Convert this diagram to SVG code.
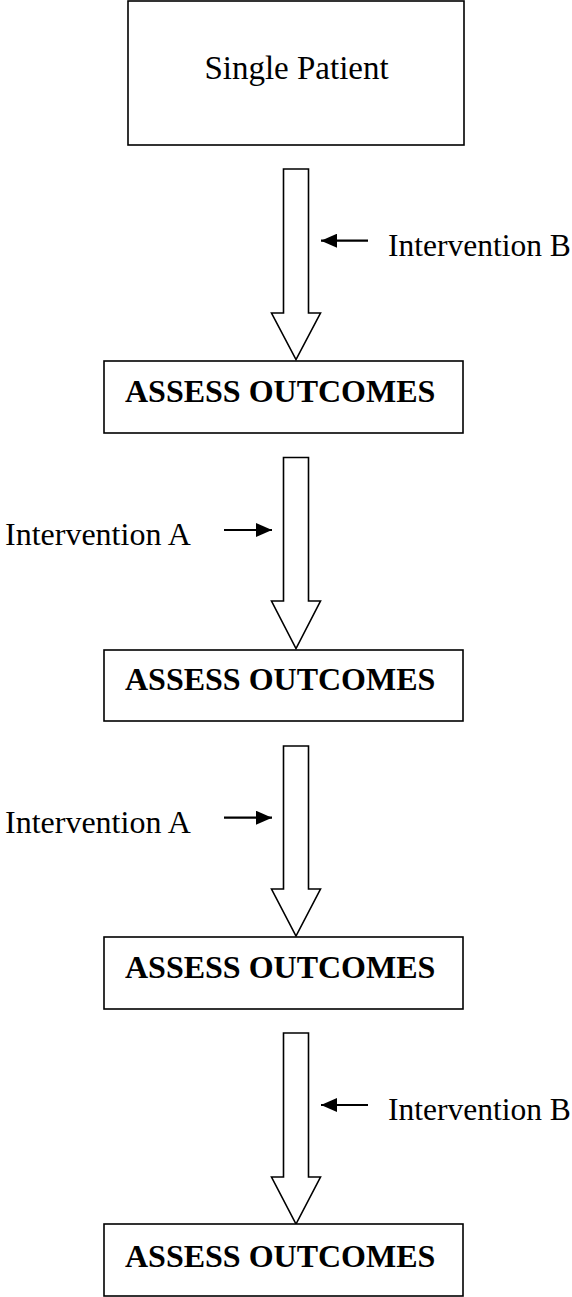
<svg xmlns="http://www.w3.org/2000/svg" width="572" height="1297" viewBox="0 0 572 1297">
<defs>
<style>
.box{fill:#fff;stroke:#000;stroke-width:1.6}
.blk{fill:#fff;stroke:#000;stroke-width:1.6;stroke-linejoin:miter}
.t{font-family:"Liberation Serif","Times New Roman",serif;font-size:32px;fill:#000}
.b{font-weight:bold}
.ln{stroke:#000;stroke-width:2.2;fill:none}
</style>
<marker id="ah" markerUnits="userSpaceOnUse" markerWidth="16" markerHeight="14" refX="16" refY="7" orient="auto">
<path d="M0,0 L16,7 L0,14 Z" fill="#000"/>
</marker>
</defs>
<rect width="572" height="1297" fill="#fff"/>
<g id="connectors">
<path class="blk" d="M283.5,169 H308.5 V313 H320.5 L296,359.5 L271.5,313 H283.5 Z"/>
<path class="blk" d="M283.5,457.5 H308.5 V601 H320.5 L296,648.5 L271.5,601 H283.5 Z"/>
<path class="blk" d="M283.5,746 H308.5 V889 H320.5 L296,936 L271.5,889 H283.5 Z"/>
<path class="blk" d="M283.5,1033 H308.5 V1177 H320.5 L296,1224 L271.5,1177 H283.5 Z"/>
<line class="ln" x1="368" y1="240.7" x2="321" y2="240.7" marker-end="url(#ah)"/>
<line class="ln" x1="224" y1="530" x2="272" y2="530" marker-end="url(#ah)"/>
<line class="ln" x1="224" y1="817.7" x2="272" y2="817.7" marker-end="url(#ah)"/>
<line class="ln" x1="368" y1="1105" x2="321" y2="1105" marker-end="url(#ah)"/>
<text class="t" x="388" y="256" style="font-size:31.5px">Intervention B</text>
<text class="t" x="5" y="545">Intervention A</text>
<text class="t" x="5" y="832.7">Intervention A</text>
<text class="t" x="388" y="1120" style="font-size:31.5px">Intervention B</text>
</g>
<g id="patient">
<rect class="box" x="128" y="1" width="336" height="144"/>
<text class="t" x="296.5" y="79" text-anchor="middle" style="font-size:33px">Single Patient</text>
</g>
<g id="assess1">
<rect class="box" x="104" y="361" width="359" height="72"/>
<text class="t b" x="125" y="402">ASSESS OUTCOMES</text>
</g>
<g id="assess2">
<rect class="box" x="104" y="650" width="359" height="71"/>
<text class="t b" x="125" y="690">ASSESS OUTCOMES</text>
</g>
<g id="assess3">
<rect class="box" x="104" y="937" width="359" height="72"/>
<text class="t b" x="125" y="978">ASSESS OUTCOMES</text>
</g>
<g id="assess4">
<rect class="box" x="104" y="1224" width="359" height="72"/>
<text class="t b" x="125" y="1266.5">ASSESS OUTCOMES</text>
</g>
</svg>
